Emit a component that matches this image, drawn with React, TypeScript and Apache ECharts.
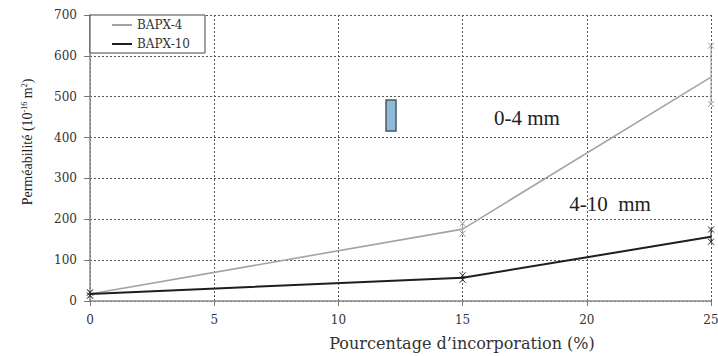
import React, { useEffect, useRef } from "react";
import * as echarts from "echarts";

// Incorporation percentage (%)
const pct = [0, 15, 25];
// Permeability (10^-16 m²) per aggregate fraction
const bapx4 = [17, 176, 548];
const bapx10 = [17, 57, 157];
// Measured scatter (low, high) at each percentage
const bapx4Low = [14, 165, 482];
const bapx4High = [20, 190, 625];
const bapx10Low = [13, 52, 145];
const bapx10High = [21, 63, 175];

const xTicks = { min: 0, max: 25, interval: 5 };
const yTicks = { min: 0, max: 700, interval: 100 };

const SERIF = "'Liberation Serif', 'Times New Roman', serif";
const WIDE_SERIF = "'DejaVu Serif', serif";

function errorSeries(name: string, lows: number[], highs: number[], color: string) {
  const data = pct.map((x, i) => [x, lows[i], highs[i]]);
  return {
    type: "custom",
    name,
    silent: true,
    legendHoverLink: false,
    renderItem: (_params: any, api: any) => {
      const x = api.value(0);
      const lo = api.coord([x, api.value(1)]);
      const hi = api.coord([x, api.value(2)]);
      const s = 3;
      const cross = (p: number[]) => [
        { type: "line", shape: { x1: p[0] - s, y1: p[1] - s, x2: p[0] + s, y2: p[1] + s }, style: { stroke: color, lineWidth: 1 } },
        { type: "line", shape: { x1: p[0] - s, y1: p[1] + s, x2: p[0] + s, y2: p[1] - s }, style: { stroke: color, lineWidth: 1 } },
      ];
      return {
        type: "group",
        children: [
          { type: "line", shape: { x1: lo[0], y1: lo[1], x2: hi[0], y2: hi[1] }, style: { stroke: color, lineWidth: 1 } },
          ...cross(lo),
          ...cross(hi),
        ],
      };
    },
    data,
    z: 3,
  };
}

export default function App() {
  const ref = useRef<HTMLDivElement>(null);

  useEffect(() => {
    if (!ref.current) return;
    const chart = echarts.init(ref.current, undefined, { renderer: "svg" });
    chart.setOption({
      animation: false,
      backgroundColor: "#ffffff",
      grid: { left: 90, right: 7, top: 15, bottom: 55, outerBoundsMode: "none" },
      legend: {
        data: ["BAPX-4", "BAPX-10"],
        orient: "vertical",
        left: 90,
        top: 15,
        padding: [4, 15, 3, 22],
        itemGap: 7,
        itemWidth: 20,
        itemHeight: 2,
        icon: "rect",
        backgroundColor: "#ffffff",
        borderColor: "#444",
        borderWidth: 1,
        borderRadius: 0,
        textStyle: { fontFamily: WIDE_SERIF, fontSize: 12, color: "#333" },
      },
      xAxis: {
        type: "value",
        ...xTicks,
        axisLine: { show: true, lineStyle: { color: "#8a8a8a", width: 1.5 } },
        axisTick: { show: true, length: 5, lineStyle: { color: "#777" } },
        axisLabel: { margin: 13, fontFamily: WIDE_SERIF, fontSize: 12, color: "#333" },
        splitLine: { show: true, lineStyle: { color: "#555", type: [2, 2], width: 1 } },
      },
      yAxis: {
        type: "value",
        ...yTicks,
        axisLine: { show: true, lineStyle: { color: "#8a8a8a", width: 1.5 } },
        axisTick: { show: true, length: 6, lineStyle: { color: "#777" } },
        axisLabel: { margin: 13, fontFamily: WIDE_SERIF, fontSize: 12, color: "#333" },
        splitLine: { show: true, lineStyle: { color: "#555", type: [2, 2], width: 1 } },
      },
      series: [
        {
          type: "line",
          name: "BAPX-4",
          data: pct.map((x, i) => [x, bapx4[i]]),
          symbol: "none",
          lineStyle: { color: "#a3a3a3", width: 1.6 },
          itemStyle: { color: "#a3a3a3" },
          z: 4,
        },
        {
          type: "line",
          name: "BAPX-10",
          data: pct.map((x, i) => [x, bapx10[i]]),
          symbol: "none",
          lineStyle: { color: "#1e1e1e", width: 2 },
          itemStyle: { color: "#1e1e1e" },
          z: 5,
        },
        errorSeries("BAPX-4 scatter", bapx4Low, bapx4High, "#9a9a9a"),
        errorSeries("BAPX-10 scatter", bapx10Low, bapx10High, "#222"),
      ],
      graphic: [
        {
          type: "text",
          x: 27,
          y: 142,
          rotation: Math.PI / 2,
          style: {
            text: "Perméabilité (10{sup|-16} m{sup|2})",
            fontFamily: SERIF,
            fontSize: 14,
            fill: "#222",
            align: "center",
            verticalAlign: "middle",
            rich: {
              sup: { fontFamily: SERIF, fontSize: 8, fill: "#222", verticalAlign: "top", padding: [0, 0, 6, 0] },
            },
          },
        },
        {
          type: "text",
          x: 462,
          y: 343,
          style: {
            text: "Pourcentage d’incorporation (%)",
            fontFamily: WIDE_SERIF,
            fontSize: 16,
            fill: "#333",
            align: "center",
            verticalAlign: "middle",
          },
        },
        {
          type: "text",
          x: 527,
          y: 118,
          style: {
            text: "0-4 mm",
            fontFamily: SERIF,
            fontSize: 21,
            fill: "#222",
            align: "center",
            verticalAlign: "middle",
          },
        },
        {
          type: "text",
          x: 610,
          y: 204,
          style: {
            text: "4-10  mm",
            fontFamily: SERIF,
            fontSize: 21,
            fill: "#222",
            align: "center",
            verticalAlign: "middle",
          },
        },
        {
          type: "rect",
          shape: { x: 386, y: 100, width: 10, height: 31 },
          style: { fill: "#8fb9d6", stroke: "#4a5a66", lineWidth: 1.5 },
        },
      ],
    });
    return () => chart.dispose();
  }, []);

  return (
    <div
      ref={ref}
      style={{ position: "fixed", left: 0, top: 0, width: 718, height: 356 }}
    />
  );
}
